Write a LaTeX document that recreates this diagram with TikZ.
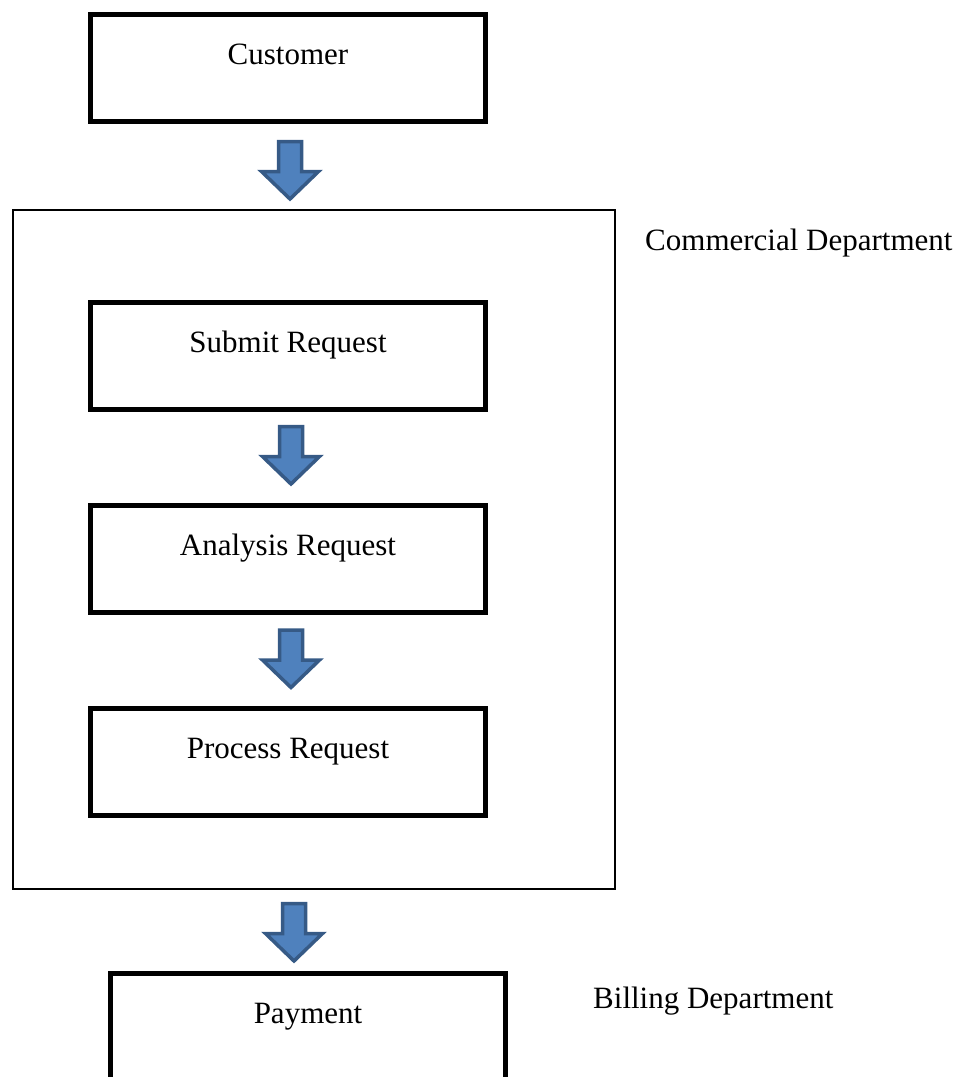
\documentclass[tikz,border=0pt]{standalone}
\usepackage{fontspec}
\setmainfont{Liberation Serif}
\usetikzlibrary{calc}

\definecolor{arrowfill}{RGB}{79,129,189}
\definecolor{arrowline}{RGB}{54,90,134}

\tikzset{
  stagebox/.style={draw=black, line width=5pt, inner sep=0pt,
    minimum width=395pt, text height=50pt, text depth=57pt,
    font=\fontsize{31}{37}\selectfont},
  deptbox/.style={draw=black, line width=2pt, inner sep=0pt,
    minimum width=602pt, minimum height=679pt},
  deptlabel/.style={anchor=base west, inner sep=0pt,
    font=\fontsize{31}{37}\selectfont},
  pics/downarrow/.style={code={
    \filldraw[fill=arrowfill, draw=arrowline, line width=3.5pt, line join=miter]
      (-11.5,0) -- (11.5,0) -- (11.5,30) -- (28.5,30) -- (0,57.5)
      -- (-28.5,30) -- (-11.5,30) -- cycle;}}
}

\begin{document}
\begin{tikzpicture}[x=1pt, y=-1pt]
  \useasboundingbox (0,0) rectangle (967,1077);

  % boxes of the flow
  \node[stagebox] (customer) at (288,12) [anchor=north] {Customer};
  \node[deptbox]  (commercial) at (314,549.5) {};
  \node[stagebox] (submit)   at (288,300)   [anchor=north] {Submit Request};
  \node[stagebox] (analysis) at (288,502.5) [anchor=north] {Analysis Request};
  \node[stagebox] (process)  at (288,705.5) [anchor=north] {Process Request};
  \node[stagebox, text depth=70pt] (payment) at (308,970.5) [anchor=north] {Payment};

  % department names
  \node[deptlabel] (commlabel) at (645,250) {Commercial Department};
  \node[deptlabel] (billlabel) at (593,1008) {Billing Department};

  % block arrows between the stages
  \pic at ($(customer.south)+(2,17.5)$) {downarrow};
  \pic at ($(submit.south)+(3,14.5)$) {downarrow};
  \pic at ($(analysis.south)+(3,15.5)$) {downarrow};
  \pic at ($(commercial.south)+(-20,13.5)$) {downarrow};
\end{tikzpicture}
\end{document}
